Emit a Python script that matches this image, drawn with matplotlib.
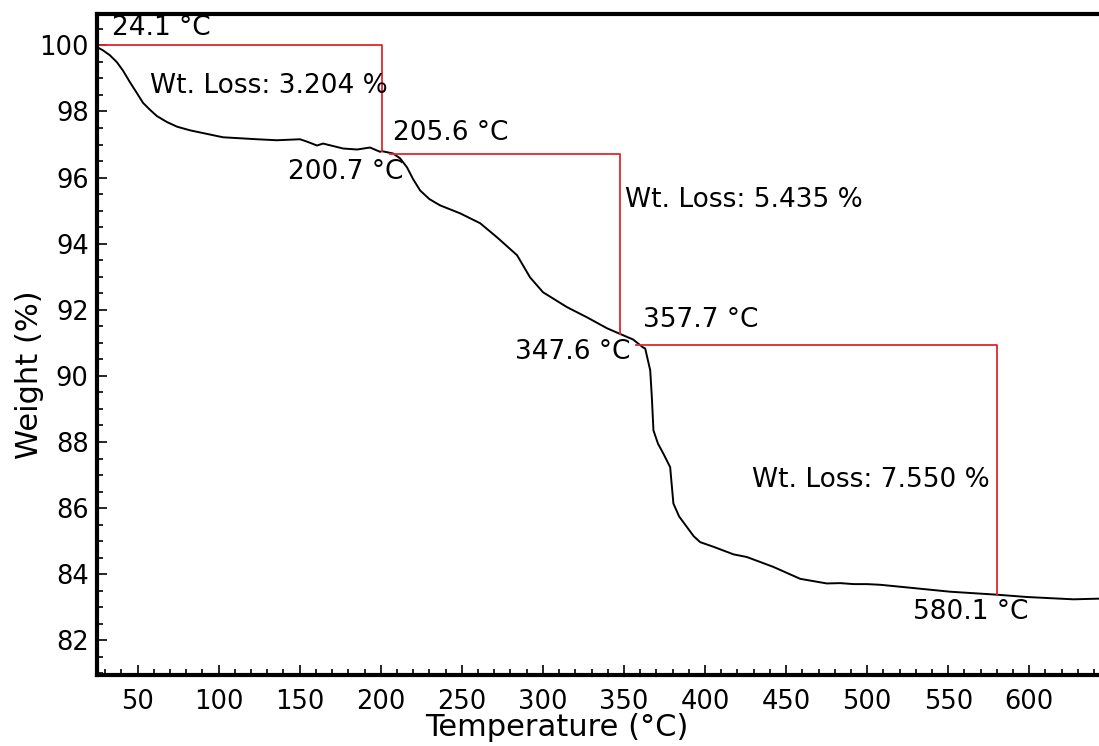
import numpy as np
import matplotlib
matplotlib.use('Agg')
import matplotlib.pyplot as plt
from matplotlib.ticker import MultipleLocator

# TGA curve
temp = [24.1, 25.0, 28.7, 33.0, 37.3, 41.0, 45.4, 49.7, 53.4, 57.7,
        62.0, 68.2, 74.4, 82.4, 102.7, 123.7,
        136.0, 150.2, 155.0, 160.7, 164.4, 176.8, 185.4, 193.4, 199.6, 200.7,
        207.6, 212.0, 216.2, 220.0, 224.3, 230.0, 236.6, 248.9, 261.3, 271.8,
        284.1, 292.1, 300.1,
        314.9, 327.3, 339.6, 347.6, 355.7, 361.8, 363.1, 366.2, 367.2, 368.2,
        371.0, 374.3, 378.5, 380.5, 384.0, 388.8, 393.0, 397.0, 405.2, 417.6,
        425.8, 442.2, 458.7,
        475.1, 483.4, 491.6, 499.9, 508.0, 524.6, 551.2, 580.0, 598.5, 627.1,
        643.0]
weight = [100.0, 99.95, 99.85, 99.70, 99.49, 99.24, 98.88, 98.55, 98.26, 98.05,
          97.86, 97.68, 97.54, 97.43, 97.22, 97.16,
          97.13, 97.16, 97.08, 96.97, 97.03, 96.88, 96.85, 96.91, 96.78, 96.80,
          96.73, 96.58, 96.31, 95.95, 95.61, 95.35, 95.16, 94.92, 94.62, 94.19,
          93.65, 92.98, 92.53,
          92.08, 91.77, 91.44, 91.27, 91.10, 90.86, 90.83, 90.17, 89.36, 88.35,
          87.95, 87.65, 87.24, 86.14, 85.75, 85.43, 85.15, 84.97, 84.83, 84.60,
          84.52, 84.22, 83.86,
          83.72, 83.73, 83.70, 83.70, 83.68, 83.60, 83.47, 83.38, 83.31, 83.24,
          83.26]

# weight loss steps
step_t0 = [24.1, 205.6, 357.7]
step_t1 = [200.7, 347.6, 580.1]
step_w0 = [100.0, 96.70, 90.93]
step_loss = [3.204, 5.435, 7.550]

red = '#e3262a'

fig = plt.figure(figsize=(10.99, 7.46), dpi=100)
ax = fig.add_axes([97/1099, 1-675/746, 1-97/1099, (675-14)/746])

ax.plot(temp, weight, color='black', lw=1.4)

for t0, t1, w0, dw in zip(step_t0, step_t1, step_w0, step_loss):
    ax.plot([t0, t1, t1], [w0, w0, w0 - dw], color=red, lw=1.3)

fs = 19
# temperature labels + loss labels
ax.text(34.3, 100.54, '%.1f °C' % step_t0[0], fontsize=fs, va='center')
ax.text(142.8, 96.16, '%.1f °C' % step_t1[0], fontsize=fs, va='center')
ax.text(207.6, 97.34, '%.1f °C' % step_t0[1], fontsize=fs, va='center')
ax.text(282.9, 90.71, '%.1f °C' % step_t1[1], fontsize=fs, va='center')
ax.text(361.8, 91.68, '%.1f °C' % step_t0[2], fontsize=fs, va='center')
ax.text(528.4, 82.85, '%.1f °C' % step_t1[2], fontsize=fs, va='center')
ax.text(57.7, 98.76, 'Wt. Loss: %.3f %%' % step_loss[0], fontsize=fs, va='center')
ax.text(350.7, 95.31, 'Wt. Loss: %.3f %%' % step_loss[1], fontsize=fs, va='center')
ax.text(429.1, 86.84, 'Wt. Loss: %.3f %%' % step_loss[2], fontsize=fs, va='center')

ax.set_xlim(25, 643)
ax.set_ylim(80.95, 100.95)
ax.xaxis.set_major_locator(MultipleLocator(50))
ax.xaxis.set_minor_locator(MultipleLocator(10))
ax.yaxis.set_major_locator(MultipleLocator(2))
ax.yaxis.set_minor_locator(MultipleLocator(0.5))

ax.tick_params(which='both', direction='in', top=False, right=False, width=1.2)
ax.tick_params(which='major', length=7, labelsize=18.5)
ax.tick_params(which='minor', length=4)
ax.tick_params(axis='x', pad=10)
ax.tick_params(axis='y', pad=6)

for s in ['left', 'bottom', 'top']:
    ax.spines[s].set_linewidth(3)
ax.spines['right'].set_visible(False)

ax.set_xlabel('Temperature (°C)', fontsize=22)
ax.set_ylabel('Weight (%)', fontsize=22)
ax.xaxis.set_label_coords(0.459, -0.080)
ax.xaxis.label.set_va('center')
ax.yaxis.set_label_coords(-0.067, 0.454)
ax.yaxis.label.set_va('center')

fig.savefig('out.png', dpi=100)
